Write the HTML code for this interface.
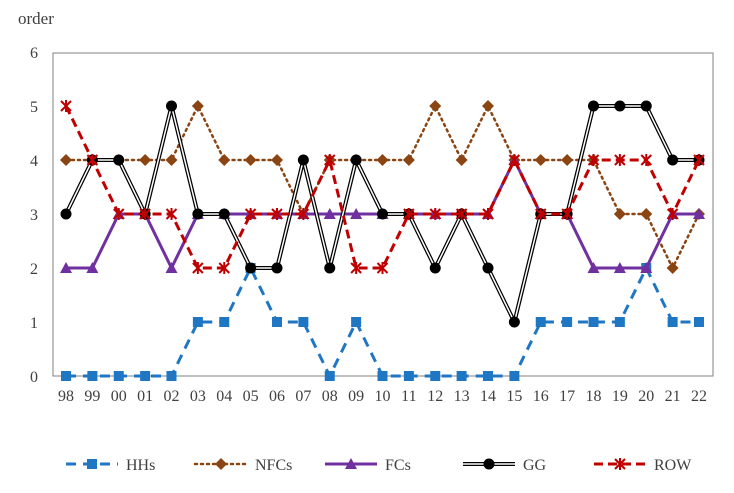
<!DOCTYPE html><html><head><style>body{margin:0;background:#fff}</style></head><body>
<svg id="s" width="734" height="488" xmlns="http://www.w3.org/2000/svg" font-family="Liberation Serif, serif">
<rect x="53" y="53" width="660" height="323" fill="none" stroke="#808080" stroke-width="1"/>
<text x="18" y="24" font-size="17" fill="#404040">order</text>
</svg>
<script>
const s=document.getElementById('s');const NS='http://www.w3.org/2000/svg';
function el(t,a,txt){const e=document.createElementNS(NS,t);for(const k in a)e.setAttribute(k,a[k]);if(txt!=null)e.textContent=txt;s.appendChild(e);return e;}
const X=i=>66+i*26.375,Y=v=>376-v*54;
for(let v=0;v<=6;v++)el('text',{x:38,y:Y(v)+6,'font-size':16,fill:'#404040','text-anchor':'end'},v);
const labs=['98','99','00','01','02','03','04','05','06','07','08','09','10','11','12','13','14','15','16','17','18','19','20','21','22'];
labs.forEach((l,i)=>el('text',{x:X(i),y:401,'font-size':16,fill:'#404040','text-anchor':'middle'},l));
const D={
HH:[0,0,0,0,0,1,1,2,1,1,0,1,0,0,0,0,0,0,1,1,1,1,2,1,1],
NF:[4,4,4,4,4,5,4,4,4,3,4,4,4,4,5,4,5,4,4,4,4,3,3,2,3],
FC:[2,2,3,3,2,3,3,3,3,3,3,3,3,3,3,3,3,4,3,3,2,2,2,3,3],
GG:[3,4,4,3,5,3,3,2,2,4,2,4,3,3,2,3,2,1,3,3,5,5,5,4,4],
RW:[5,4,3,3,3,2,2,3,3,3,4,2,2,3,3,3,3,4,3,3,4,4,4,3,4]};
const pts=a=>a.map((v,i)=>X(i)+','+Y(v)).join(' ');
function mk(type,x,y){
 if(type=='HH')el('rect',{x:x-5,y:y-5,width:10,height:10,fill:'#1f77c4'});
 if(type=='NF')el('polygon',{points:`${x},${y-6} ${x+6},${y} ${x},${y+6} ${x-6},${y}`,fill:'#8b4513'});
 if(type=='FC')el('polygon',{points:`${x},${y-6} ${x+6},${y+5} ${x-6},${y+5}`,fill:'#7030a0'});
 if(type=='GG')el('circle',{cx:x,cy:y,r:5.5,fill:'#000'});
 if(type=='RW'){const p={stroke:'#c00000','stroke-width':2};el('line',{x1:x-5,y1:y-5,x2:x+5,y2:y+5,...p});el('line',{x1:x+5,y1:y-5,x2:x-5,y2:y+5,...p});el('line',{x1:x,y1:y-6,x2:x,y2:y+6,...p});}
}
function line(type,p){
 if(type=='HH')el('polyline',{points:p,fill:'none',stroke:'#1f77c4','stroke-width':3,'stroke-dasharray':'10,7'});
 if(type=='NF')el('polyline',{points:p,fill:'none',stroke:'#8b4513','stroke-width':2.5,'stroke-dasharray':'2,4','stroke-linecap':'round'});
 if(type=='FC')el('polyline',{points:p,fill:'none',stroke:'#7030a0','stroke-width':3});
 if(type=='GG'){el('polyline',{points:p,fill:'none',stroke:'#000','stroke-width':4});el('polyline',{points:p,fill:'none',stroke:'#fff','stroke-width':1.5});}
 if(type=='RW')el('polyline',{points:p,fill:'none',stroke:'#c00000','stroke-width':3,'stroke-dasharray':'9,5'});
}
['HH','NF','FC','GG','RW'].forEach(t=>{line(t,pts(D[t]));D[t].forEach((v,i)=>mk(t,X(i),Y(v)));});
const L=[['HH','HHs',66],['NF','NFCs',195],['FC','FCs',325],['GG','GG',463],['RW','ROW',594]];
L.forEach(([t,n,x])=>{line(t,`${x},464 ${x+52},464`);mk(t,x+26,464);el('text',{x:x+60,y:470,'font-size':16,fill:'#404040'},n);});
</script>
</body></html>
